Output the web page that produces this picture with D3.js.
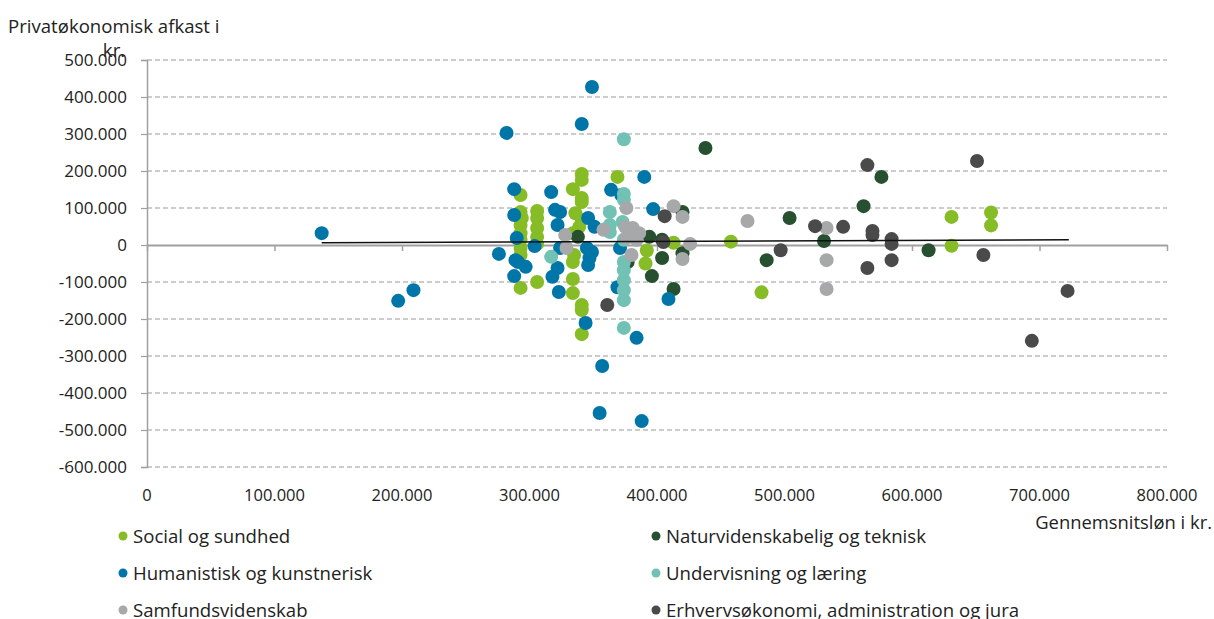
<!DOCTYPE html>
<html><head><meta charset="utf-8">
<script src="https://cdn.jsdelivr.net/npm/d3@7"></script>
<style>
html,body{margin:0;padding:0;background:#fff;}
svg{display:block;font-family:"Open Sans","Noto Sans",sans-serif;}
</style></head>
<body><svg id="c" width="1214" height="619"></svg>
<script>
// Data in thousands of kr: [gennemsnitsløn, privatøkonomisk afkast]
const socialSundhed = [[293,135],[293,89],[294,73],[293,54],[293,32],[293,14],[293,-8],[293,-27],[293,-116],
  [306,92],[306,73],[306,46],[306,22],[306,3],[306,-100],
  [341,192],[341,176],[334,151],[341,127],[341,116],[336,86],[341,68],[339,49],[334,32],[335,-27],[334,-46],
  [334,-92],[334,-130],[341,-162],[341,-176],[341,-241],
  [369,184],[392,-15],[391,-50],[413,6],[458,9],[482,-128],[631,76],[631,-2],[662,88],[662,53]];
const naturTeknisk = [[438,262],[576,184],[562,105],[504,73],[531,11],[486,-41],[613,-14],[420,89],[394,22],
  [404,14],[404,-35],[420,-22],[396,-84],[413,-119],[338,22],[377,-46]];
const humanistisk = [[137,32],[197,-151],[209,-122],[282,303],[288,151],[288,81],[290,19],[276,-24],[289,-41],
  [291,-46],[297,-59],[288,-84],[304,-3],[324,-8],[322,-62],[318,-86],[323,-127],[344,-211],[345,-8],[346,-54],
  [317,143],[320,95],[324,89],[322,54],[346,73],[349,427],[341,327],[390,184],[364,149],[372,135],[397,97],
  [351,49],[409,-146],[384,-251],[357,-327],[355,-454],[388,-476],[371,-8],[369,-114],[349,-19],[347,-35]];
const undervisning = [[374,286],[374,138],[374,122],[363,89],[373,62],[363,54],[363,35],[374,14],[374,-46],
  [374,-68],[374,-95],[374,-122],[374,-149],[374,-224],[317,-32]];
const samfund = [[471,65],[533,46],[533,-41],[533,-119],[413,105],[420,76],[426,3],[420,-38],[376,100],[358,41],
  [375,49],[381,46],[386,32],[383,24],[376,19],[380,-27],[328,27],[329,-8],[384,14]];
const erhverv = [[565,216],[651,227],[524,51],[546,49],[569,38],[569,27],[584,16],[584,3],[584,-41],[565,-62],
  [497,-14],[656,-27],[722,-124],[694,-259],[406,78],[405,8],[361,-162]];
const trend = [[137,6],[723,14]];
const seriesNames = ["Social og sundhed","Naturvidenskabelig og teknisk","Humanistisk og kunstnerisk",
  "Undervisning og læring","Samfundsvidenskab","Erhvervsøkonomi, administration og jura"];
const seriesColors = ["#86bc25","#26502f","#0076a8","#71c2b4","#a7a8aa","#4a4a4b"];
const seriesData = [socialSundhed, naturTeknisk, humanistisk, undervisning, samfund, erhverv];
const xTicks = [0,100000,200000,300000,400000,500000,600000,700000,800000];
const yTicks = [500000,400000,300000,200000,100000,0,-100000,-200000,-300000,-400000,-500000,-600000];
const yTitle = ["Privatøkonomisk afkast i","kr."];
const xTitle = "Gennemsnitsløn i kr.";

const fmt = v => v === 0 ? "0" : d3.format(",")(v).replace(/,/g,".").replace("−","-");
const svg = d3.select("#c");
const x = d3.scaleLinear().domain([0,800000]).range([147,1167]);
const y = d3.scaleLinear().domain([-600000,500000]).range([467,60]);
const axisCol = "#a0a0a0";

// grid
svg.append("g").selectAll("line").data(yTicks.filter(d=>d!==0)).join("line")
  .attr("x1",x(0)).attr("x2",x(800000)).attr("y1",d=>y(d)).attr("y2",d=>y(d))
  .attr("stroke","#9a9a9a").attr("stroke-width",1.2).attr("stroke-dasharray","5,3");

// y axis
const ya = svg.append("g").attr("transform",`translate(${x(0)},0)`)
  .call(d3.axisLeft(y).tickValues(yTicks).tickFormat(fmt).tickSize(6).tickPadding(14));
ya.select(".domain").attr("stroke",axisCol).attr("stroke-width",1.5);
ya.selectAll(".tick line").attr("stroke",axisCol).attr("stroke-width",1.2);
ya.selectAll("text").attr("font-size",17).attr("fill","#222").attr("font-family","Open Sans");

// x axis at zero
const xa = svg.append("g").attr("transform",`translate(0,${y(0)})`)
  .call(d3.axisBottom(x).tickValues(xTicks).tickFormat(()=>"").tickSize(6).tickSizeOuter(0));
xa.select(".domain").attr("stroke",axisCol).attr("stroke-width",2);
xa.selectAll(".tick line").attr("stroke",axisCol).attr("stroke-width",1.5);
svg.append("g").selectAll("text").data(xTicks).join("text")
  .attr("x",d=>x(d)).attr("y",501).attr("text-anchor","middle")
  .attr("font-size",16.5).attr("fill","#222").text(fmt);

// points
seriesData.forEach((data,i)=>{
  svg.append("g").selectAll("circle").data(data).join("circle")
    .attr("cx",d=>x(d[0]*1000)).attr("cy",d=>y(d[1]*1000)).attr("r",7)
    .attr("fill",seriesColors[i]);
});

// trend line
svg.append("path").datum(trend)
  .attr("d",d3.line().x(d=>x(d[0]*1000)).y(d=>y(d[1]*1000)))
  .attr("stroke","#111").attr("stroke-width",1.5).attr("fill","none");

// titles
svg.append("text").attr("x",8).attr("y",33).attr("font-size",18.6).attr("fill","#222").text(yTitle[0]);
svg.append("text").attr("x",114).attr("y",57).attr("text-anchor","middle").attr("font-size",18.6).attr("fill","#222").text(yTitle[1]);
svg.append("text").attr("x",1212).attr("y",529).attr("text-anchor","end").attr("font-size",18.4).attr("fill","#222").text(xTitle);

// legend
const lg = svg.append("g");
seriesNames.forEach((n,i)=>{
  const col = i%2, row = Math.floor(i/2);
  const lx = col===0 ? 123 : 656, ly = 536 + row*37;
  lg.append("circle").attr("cx",lx).attr("cy",ly).attr("r",4.5).attr("fill",seriesColors[i]);
  lg.append("text").attr("x",lx+10).attr("y",ly+6.5).attr("font-size",18.6).attr("fill","#222").text(n);
});
</script></body></html>
